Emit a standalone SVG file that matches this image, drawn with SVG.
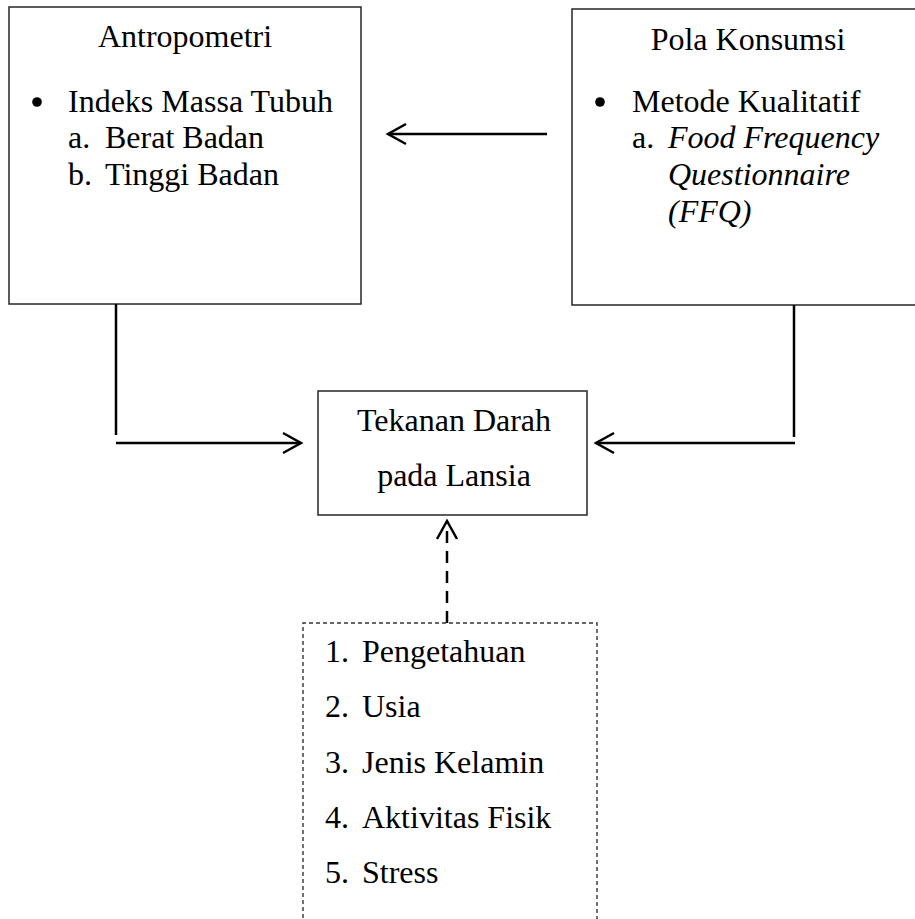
<svg xmlns="http://www.w3.org/2000/svg" width="915" height="919" viewBox="0 0 915 919">
<style>
  .box { fill: #fff; stroke: #262626; stroke-width: 1.5; }
  .dbox { fill: none; stroke: #333; stroke-width: 1.4; stroke-dasharray: 4 3; }
  .t { font-family: "Liberation Serif", "Times New Roman", serif; font-size: 32px; fill: #000; }
  .i { font-style: italic; }
  .mid { text-anchor: middle; }
  .con { fill: none; stroke: #000; stroke-width: 2.5; }
  .dash { stroke-dasharray: 12 8; }
</style>
<defs>
  <marker id="open" viewBox="-22 -13 26 26" refX="0" refY="0" markerWidth="26" markerHeight="26" orient="auto" markerUnits="userSpaceOnUse">
    <path d="M-18,-10 L0,0 L-18,10" fill="none" stroke="#000" stroke-width="2.5"/>
  </marker>
</defs>
<rect width="915" height="919" fill="#fff"/>

<g id="antropometri">
  <rect class="box" x="9" y="7" width="352" height="297"/>
  <text class="t mid" x="185" y="47">Antropometri</text>
  <circle cx="37" cy="102" r="4.8" fill="#000"/>
  <text class="t" x="68" y="112">Indeks Massa Tubuh</text>
  <text class="t" x="68" y="148">a.</text>
  <text class="t" x="105" y="148">Berat Badan</text>
  <text class="t" x="68" y="185">b.</text>
  <text class="t" x="105" y="185">Tinggi Badan</text>
</g>

<g id="pola-konsumsi">
  <rect class="box" x="572" y="9" width="353" height="296"/>
  <text class="t mid" x="748" y="50">Pola Konsumsi</text>
  <circle cx="600" cy="102" r="4.8" fill="#000"/>
  <text class="t" x="632" y="112">Metode Kualitatif</text>
  <text class="t" x="632" y="148">a.</text>
  <text class="t i" x="668" y="148">Food Frequency</text>
  <text class="t i" x="668" y="185">Questionnaire</text>
  <text class="t i" x="668" y="222">(FFQ)</text>
</g>

<g id="tekanan-darah">
  <rect class="box" x="318" y="391" width="269" height="124"/>
  <text class="t mid" x="454" y="431">Tekanan Darah</text>
  <text class="t mid" x="454" y="486">pada Lansia</text>
</g>

<g id="faktor-lain">
  <path class="dbox" d="M303,925 V623 H597 V925"/>
  <text class="t" x="325" y="662">1.</text>
  <text class="t" x="362" y="662">Pengetahuan</text>
  <text class="t" x="325" y="717">2.</text>
  <text class="t" x="362" y="717">Usia</text>
  <text class="t" x="325" y="773">3.</text>
  <text class="t" x="362" y="773">Jenis Kelamin</text>
  <text class="t" x="325" y="828">4.</text>
  <text class="t" x="362" y="828">Aktivitas Fisik</text>
  <text class="t" x="325" y="883">5.</text>
  <text class="t" x="362" y="883">Stress</text>
</g>

<g id="connectors">
  <line class="con" x1="547" y1="134" x2="388" y2="134" marker-end="url(#open)"/>
  <line class="con" x1="116" y1="304" x2="116" y2="435"/>
  <line class="con" x1="116" y1="443" x2="301" y2="443" marker-end="url(#open)"/>
  <line class="con" x1="794" y1="305" x2="794" y2="437"/>
  <line class="con" x1="795" y1="443" x2="596" y2="443" marker-end="url(#open)"/>
  <line class="con dash" x1="447" y1="623" x2="447" y2="521" marker-end="url(#open)"/>
</g>
</svg>
